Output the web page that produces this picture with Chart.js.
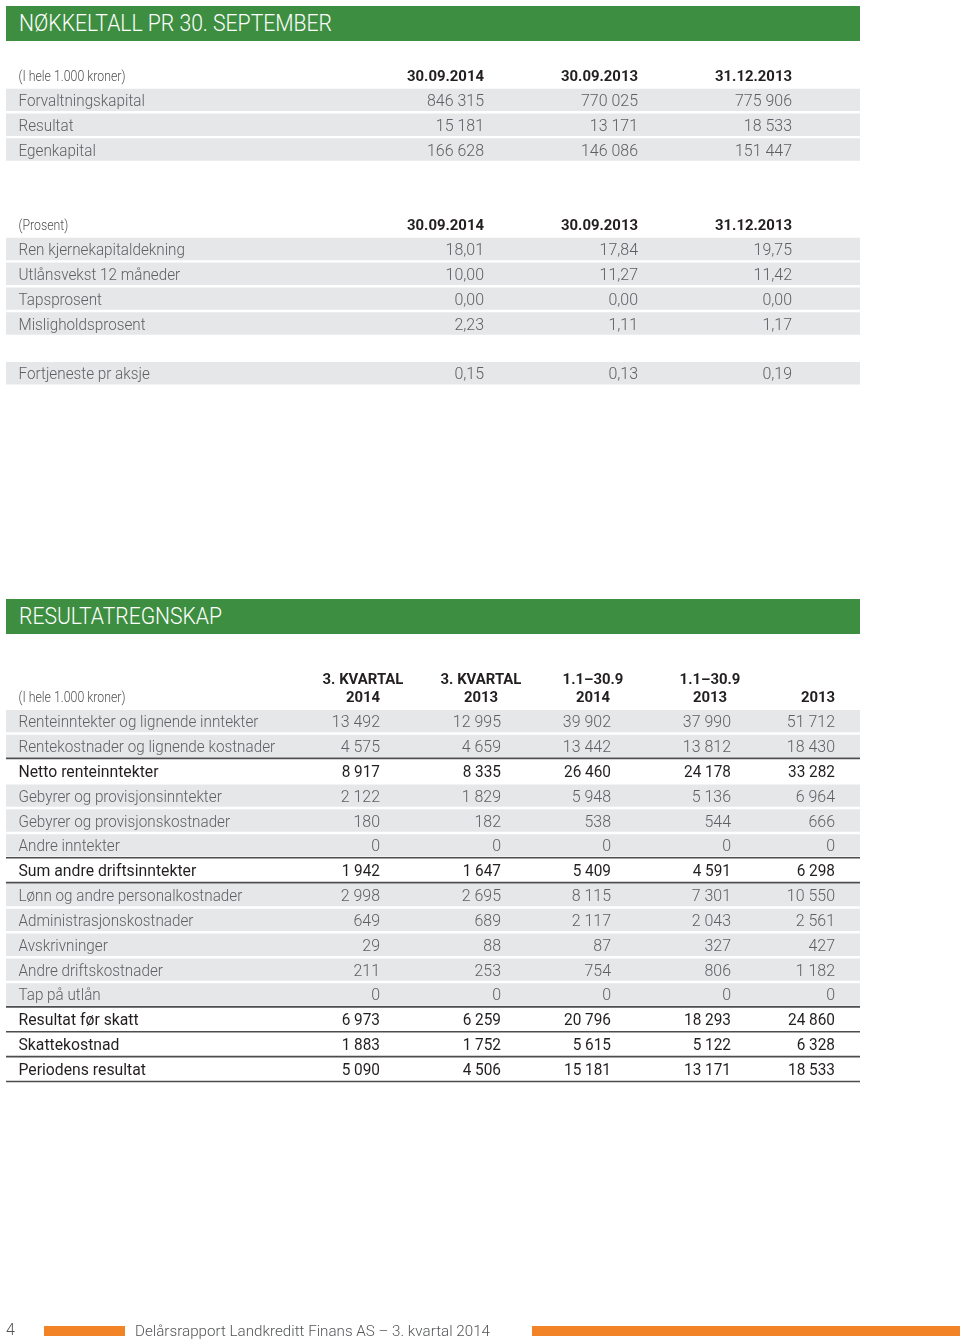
<!DOCTYPE html>
<html lang="no">
<head>
<meta charset="utf-8">
<title>Nøkkeltall pr 30. september – Resultatregnskap</title>
<script src="https://cdn.jsdelivr.net/npm/chart.js@4.4.1/dist/chart.umd.min.js"></script>
<style>
html,body{margin:0;padding:0;background:#fff;}
body{width:960px;height:1342px;position:relative;overflow:hidden;font-family:Roboto,"Liberation Sans",sans-serif;}
#c{position:absolute;left:0;top:0;}
.band{position:absolute;left:6px;width:854px;height:35px;background:#3e8e41;}
.band span{position:absolute;left:13px;top:0;line-height:35px;font-size:23px;font-weight:300;color:#fff;white-space:nowrap;transform-origin:0 50%;}
.bar{position:absolute;height:10px;background:#f28327;top:1326px;}
.ft{position:absolute;white-space:nowrap;color:#545557;font-weight:300;transform-origin:0 50%;}
</style>
</head>
<body>
<canvas id="c" width="960" height="1342"></canvas>
<div class="band" style="top:6px"><span data-w="313">NØKKELTALL PR 30. SEPTEMBER</span></div>
<div class="band" style="top:599px"><span data-w="203">RESULTATREGNSKAP</span></div>
<div class="ft" style="left:6px;top:1320px;font-size:16px;line-height:20px">4</div>
<div class="bar" style="left:44px;width:81px"></div>
<div class="ft" data-w="355" style="left:135px;top:1321px;font-size:15px;line-height:20px">Delårsrapport Landkreditt Finans AS – 3. kvartal 2014</div>
<div class="bar" style="left:532px;width:428px"></div>
<script>
// ---------------- DATA ----------------
// Nøkkeltall (i hele 1.000 kroner)
const nkUnitLabel = '(I hele 1.000 kroner)';
const nkColumns = ['30.09.2014', '30.09.2013', '31.12.2013'];
const nkRows = ['Forvaltningskapital', 'Resultat', 'Egenkapital'];
const forvaltningskapital = [846315, 770025, 775906];
const resultat = [15181, 13171, 18533];
const egenkapital = [166628, 146086, 151447];

// Nøkkeltall (prosent)
const pctUnitLabel = '(Prosent)';
const pctRows = ['Ren kjernekapitaldekning', 'Utlånsvekst 12 måneder', 'Tapsprosent', 'Misligholdsprosent'];
const renKjernekapitaldekning = [18.01, 17.84, 19.75];
const utlansvekst12mnd = [10.00, 11.27, 11.42];
const tapsprosent = [0.00, 0.00, 0.00];
const misligholdsprosent = [2.23, 1.11, 1.17];
const epsLabel = 'Fortjeneste pr aksje';
const fortjenestePrAksje = [0.15, 0.13, 0.19];

// Resultatregnskap
const rsUnitLabel = '(I hele 1.000 kroner)';
const rsColumnTop = ['3. KVARTAL', '3. KVARTAL', '1.1–30.9', '1.1–30.9', ''];
const rsColumnBottom = ['2014', '2013', '2014', '2013', '2013'];
const rsRows = [
  'Renteinntekter og lignende inntekter',
  'Rentekostnader og lignende kostnader',
  'Netto renteinntekter',
  'Gebyrer og provisjonsinntekter',
  'Gebyrer og provisjonskostnader',
  'Andre inntekter',
  'Sum andre driftsinntekter',
  'Lønn og andre personalkostnader',
  'Administrasjonskostnader',
  'Avskrivninger',
  'Andre driftskostnader',
  'Tap på utlån',
  'Resultat før skatt',
  'Skattekostnad',
  'Periodens resultat'
];
const rsSumRows = ['Netto renteinntekter', 'Sum andre driftsinntekter', 'Resultat før skatt', 'Skattekostnad', 'Periodens resultat'];
const kvartal3_2014 = [13492, 4575, 8917, 2122, 180, 0, 1942, 2998, 649, 29, 211, 0, 6973, 1883, 5090];
const kvartal3_2013 = [12995, 4659, 8335, 1829, 182, 0, 1647, 2695, 689, 88, 253, 0, 6259, 1752, 4506];
const hittil2014    = [39902, 13442, 26460, 5948, 538, 0, 5409, 8115, 2117, 87, 754, 0, 20796, 5615, 15181];
const hittil2013    = [37990, 13812, 24178, 5136, 544, 0, 4591, 7301, 2043, 327, 806, 0, 18293, 5122, 13171];
const aar2013       = [51712, 18430, 33282, 6964, 666, 0, 6298, 10550, 2561, 427, 1182, 0, 24860, 6328, 18533];

// ---------------- LAYOUT / STYLE ----------------
const LABEL_X = 18.5;
const NK_RIGHT = [484, 638, 792];
const RS_RIGHT = [380, 501, 611, 731, 835];
const RS_HEAD_CENTER = [363, 481, 593, 710, 818];
const RS_RULE_AFTER = [1, 5, 6, 11, 12, 13, 14];   // rule drawn below these result rows
const BAND_COLOR = '#e6e7e8';
const RULE_COLOR = '#4d4d4f';

const STYLES = {
  light:  {font: '300 16.5px Roboto', color: '#5e5f62', sample: 'Renteinntekter og lignende inntekter', width: 240},
  num:    {font: '300 16.5px Roboto', color: '#5e5f62', sample: '846 315', width: 57},
  strong: {font: '400 16.5px Roboto', color: '#231f20', sample: 'Netto renteinntekter', width: 140},
  snum:   {font: '400 16.5px Roboto', color: '#231f20', sample: '26 460', width: 47},
  head:   {font: '700 15.5px Roboto', color: '#231f20', sample: '30.09.2014', width: 77},
  small:  {font: '300 14px Roboto', color: '#4f5052', sample: '(I hele 1.000 kroner)', width: 107}
};

const fmtInt = n => String(n).replace(/\B(?=(\d{3})+(?!\d))/g, ' ');
const fmtPct = n => n.toFixed(2).replace('.', ',');

// ---------------- SLOTS (one category per table line) ----------------
const slots = [];
slots.push({kind: 'head', left: nkUnitLabel, cols: nkColumns});
[forvaltningskapital, resultat, egenkapital].forEach((v, i) =>
  slots.push({kind: 'gray', label: nkRows[i], values: v.map(fmtInt), right: NK_RIGHT}));
slots.push({kind: 'blank'}, {kind: 'blank'});
slots.push({kind: 'head', left: pctUnitLabel, cols: nkColumns});
[renKjernekapitaldekning, utlansvekst12mnd, tapsprosent, misligholdsprosent].forEach((v, i) =>
  slots.push({kind: 'gray', label: pctRows[i], values: v.map(fmtPct), right: NK_RIGHT}));
slots.push({kind: 'blank'});
slots.push({kind: 'gray', label: epsLabel, values: fortjenestePrAksje.map(fmtPct), right: NK_RIGHT});
for (let i = 0; i < 12; i++) slots.push({kind: 'blank'});
slots.push({kind: 'head3'});
const RS_START = slots.length;
const rsSeries = [kvartal3_2014, kvartal3_2013, hittil2014, hittil2013, aar2013];
rsRows.forEach((name, i) => {
  const sum = rsSumRows.includes(name);
  slots.push({kind: sum ? 'sum' : 'gray', label: name, values: rsSeries.map(s => fmtInt(s[i])), right: RS_RIGHT});
});

const categoryLabels = slots.map((s, i) => s.label || s.left || ('#' + i));
const bandValues = slots.map(s => s.kind === 'gray' ? 1 : null);

// ---------------- DRAWING ----------------
function txt(ctx, str, x, yc, st, align) {
  ctx.save();
  ctx.font = st.font;
  ctx.fillStyle = st.color;
  ctx.textAlign = align;
  ctx.textBaseline = 'alphabetic';
  ctx.translate(x, yc + st.capHalf);
  ctx.scale(st.sx, 1);
  ctx.fillText(str, 0, 0);
  ctx.restore();
}

const tablePlugin = {
  id: 'tableText',
  afterDatasetsDraw(chart) {
    const ctx = chart.ctx, ys = chart.scales.y, area = chart.chartArea;
    const S = STYLES;
    ctx.save();
    ctx.strokeStyle = RULE_COLOR;
    ctx.lineWidth = 1.6;
    RS_RULE_AFTER.forEach(r => {
      const s = RS_START + r;
      const yy = (ys.getPixelForValue(s) + ys.getPixelForValue(s + 1)) / 2;
      ctx.beginPath(); ctx.moveTo(area.left, yy); ctx.lineTo(area.right, yy); ctx.stroke();
    });
    ctx.restore();

    slots.forEach((s, i) => {
      const y = ys.getPixelForValue(i);
      if (s.kind === 'head') {
        txt(ctx, s.left, LABEL_X, y, S.small, 'left');
        s.cols.forEach((c, j) => txt(ctx, c, NK_RIGHT[j], y, S.head, 'right'));
      } else if (s.kind === 'head3') {
        txt(ctx, rsUnitLabel, LABEL_X, y, S.small, 'left');
        rsColumnTop.forEach((c, j) => { if (c) txt(ctx, c, RS_HEAD_CENTER[j], y - 18, S.head, 'center'); });
        rsColumnBottom.forEach((c, j) => txt(ctx, c, RS_HEAD_CENTER[j], y, S.head, 'center'));
      } else if (s.kind === 'gray' || s.kind === 'sum') {
        const lab = s.kind === 'sum' ? S.strong : S.light;
        const nm = s.kind === 'sum' ? S.snum : S.num;
        txt(ctx, s.label, LABEL_X, y, lab, 'left');
        s.values.forEach((v, j) => txt(ctx, v, s.right[j], y, nm, 'right'));
      }
    });
  }
};

function calibrate() {
  const m = document.createElement('canvas').getContext('2d');
  Object.values(STYLES).forEach(st => {
    m.font = st.font;
    st.sx = st.width / m.measureText(st.sample).width;
    st.capHalf = m.measureText('H').actualBoundingBoxAscent / 2;
  });
  document.querySelectorAll('[data-w]').forEach(el => {
    const w = el.getBoundingClientRect().width;
    if (w > 0) el.style.transform = 'scaleX(' + (parseFloat(el.dataset.w) / w) + ')';
  });
}

function init() {
  calibrate();
  new Chart(document.getElementById('c'), {
    type: 'bar',
    data: {
      labels: categoryLabels,
      datasets: [{
        data: bandValues,
        backgroundColor: BAND_COLOR,
        borderWidth: 0,
        barPercentage: 0.9,
        categoryPercentage: 1
      }]
    },
    options: {
      indexAxis: 'y',
      responsive: false,
      animation: false,
      events: [],
      layout: {padding: {left: 6, right: 100, top: 62.575, bottom: 260.575}},
      scales: {
        x: {type: 'linear', display: false, min: 0, max: 1},
        y: {type: 'category', display: false, offset: true, grid: {display: false}}
      },
      plugins: {legend: {display: false}, tooltip: {enabled: false}, title: {display: false}}
    },
    plugins: [tablePlugin]
  });
}

const fontLoads = ['300 16px Roboto', '400 16px Roboto', '700 16px Roboto'].map(f => document.fonts.load(f));
Promise.all(fontLoads).then(init, init);
</script>
</body>
</html>
